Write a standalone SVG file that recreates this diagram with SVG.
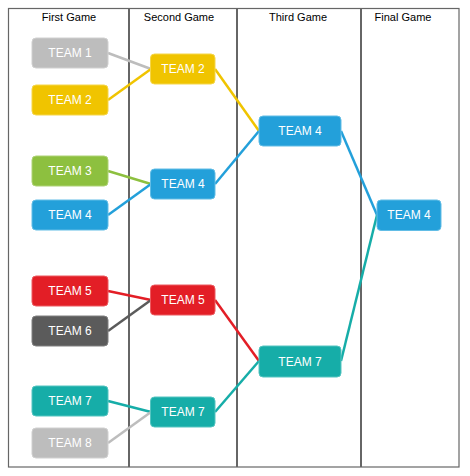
<svg xmlns="http://www.w3.org/2000/svg" width="470" height="476" viewBox="0 0 470 476">
<style>
.hdr{font-family:"Liberation Sans",Arial,sans-serif;font-size:11px;fill:#000;text-anchor:middle}
.lbl{font-family:"Liberation Sans",Arial,sans-serif;font-size:12px;fill:#fff;text-anchor:middle}
.grid{stroke:#666;stroke-width:2;fill:none}
.c{fill:none;stroke-width:2.5}
.gray{fill:#bdbdbd;stroke:#d0d0d0}
.yel{fill:#f0c400;stroke:#f5d64a}
.grn{fill:#8dc03f;stroke:#aed277}
.blu{fill:#23a0da;stroke:#62bde6}
.red{fill:#e31e26;stroke:#ec5b60}
.dk{fill:#5b5b5b;stroke:#808080}
.tel{fill:#16ada8;stroke:#55c4c0}
</style>
<rect x="0" y="0" width="470" height="476" fill="#fff"/>
<g id="grid">
<rect x="8.5" y="8.5" width="450.5" height="458.5" fill="none" stroke="#666" stroke-width="1.2"/>
<line class="grid" x1="129" y1="8" x2="129" y2="467"/>
<line class="grid" x1="237" y1="8" x2="237" y2="467"/>
<line class="grid" x1="361" y1="8" x2="361" y2="467"/>
<text class="hdr" x="69" y="21">First Game</text>
<text class="hdr" x="179" y="21">Second Game</text>
<text class="hdr" x="298" y="21">Third Game</text>
<text class="hdr" x="403" y="21">Final Game</text>
</g>
<g id="connectors">
<line class="c" stroke="#bdbdbd" x1="108" y1="53" x2="151" y2="69"/>
<line class="c" stroke="#f0c400" x1="108" y1="100" x2="151" y2="69"/>
<line class="c" stroke="#8dc03f" x1="108" y1="171" x2="151" y2="184"/>
<line class="c" stroke="#23a0da" x1="108" y1="215" x2="151" y2="184"/>
<line class="c" stroke="#e31e26" x1="108" y1="291" x2="151" y2="300"/>
<line class="c" stroke="#5b5b5b" x1="108" y1="331" x2="151" y2="300"/>
<line class="c" stroke="#16ada8" x1="108" y1="401" x2="151" y2="412"/>
<line class="c" stroke="#bdbdbd" x1="108" y1="443" x2="151" y2="412"/>
<line class="c" stroke="#f0c400" x1="215" y1="69" x2="259" y2="131"/>
<line class="c" stroke="#23a0da" x1="215" y1="184" x2="259" y2="131"/>
<line class="c" stroke="#e31e26" x1="215" y1="300" x2="259" y2="361"/>
<line class="c" stroke="#16ada8" x1="215" y1="412" x2="259" y2="361"/>
<line class="c" stroke="#23a0da" x1="341" y1="131" x2="377" y2="215"/>
<line class="c" stroke="#16ada8" x1="341" y1="361" x2="377" y2="215"/>
</g>
<g id="r1-team1"><rect class="gray" x="32" y="38" width="76" height="30" rx="4"/><text class="lbl" x="70" y="57">TEAM 1</text></g>
<g id="r1-team2"><rect class="yel" x="32" y="85" width="76" height="30" rx="4"/><text class="lbl" x="70" y="104">TEAM 2</text></g>
<g id="r1-team3"><rect class="grn" x="32" y="156" width="76" height="30" rx="4"/><text class="lbl" x="70" y="175">TEAM 3</text></g>
<g id="r1-team4"><rect class="blu" x="32" y="200" width="76" height="30" rx="4"/><text class="lbl" x="70" y="219">TEAM 4</text></g>
<g id="r1-team5"><rect class="red" x="32" y="276" width="76" height="30" rx="4"/><text class="lbl" x="70" y="295">TEAM 5</text></g>
<g id="r1-team6"><rect class="dk" x="32" y="316" width="76" height="30" rx="4"/><text class="lbl" x="70" y="335">TEAM 6</text></g>
<g id="r1-team7"><rect class="tel" x="32" y="386" width="76" height="30" rx="4"/><text class="lbl" x="70" y="405">TEAM 7</text></g>
<g id="r1-team8"><rect class="gray" x="32" y="428" width="76" height="30" rx="4"/><text class="lbl" x="70" y="447">TEAM 8</text></g>
<g id="r2-team2"><rect class="yel" x="150.5" y="54" width="64.5" height="30" rx="4"/><text class="lbl" x="183" y="73">TEAM 2</text></g>
<g id="r2-team4"><rect class="blu" x="150.5" y="169" width="64.5" height="30" rx="4"/><text class="lbl" x="183" y="188">TEAM 4</text></g>
<g id="r2-team5"><rect class="red" x="150.5" y="285" width="64.5" height="30" rx="4"/><text class="lbl" x="183" y="304">TEAM 5</text></g>
<g id="r2-team7"><rect class="tel" x="150.5" y="397" width="64.5" height="30" rx="4"/><text class="lbl" x="183" y="416">TEAM 7</text></g>
<g id="r3-team4"><rect class="blu" x="259" y="116" width="82" height="30" rx="4"/><text class="lbl" x="300" y="135">TEAM 4</text></g>
<g id="r3-team7"><rect class="tel" x="259" y="346" width="82" height="31" rx="4"/><text class="lbl" x="300" y="366">TEAM 7</text></g>
<g id="final-team4"><rect class="blu" x="377" y="200" width="64" height="30.5" rx="4"/><text class="lbl" x="409" y="219">TEAM 4</text></g>
</svg>
